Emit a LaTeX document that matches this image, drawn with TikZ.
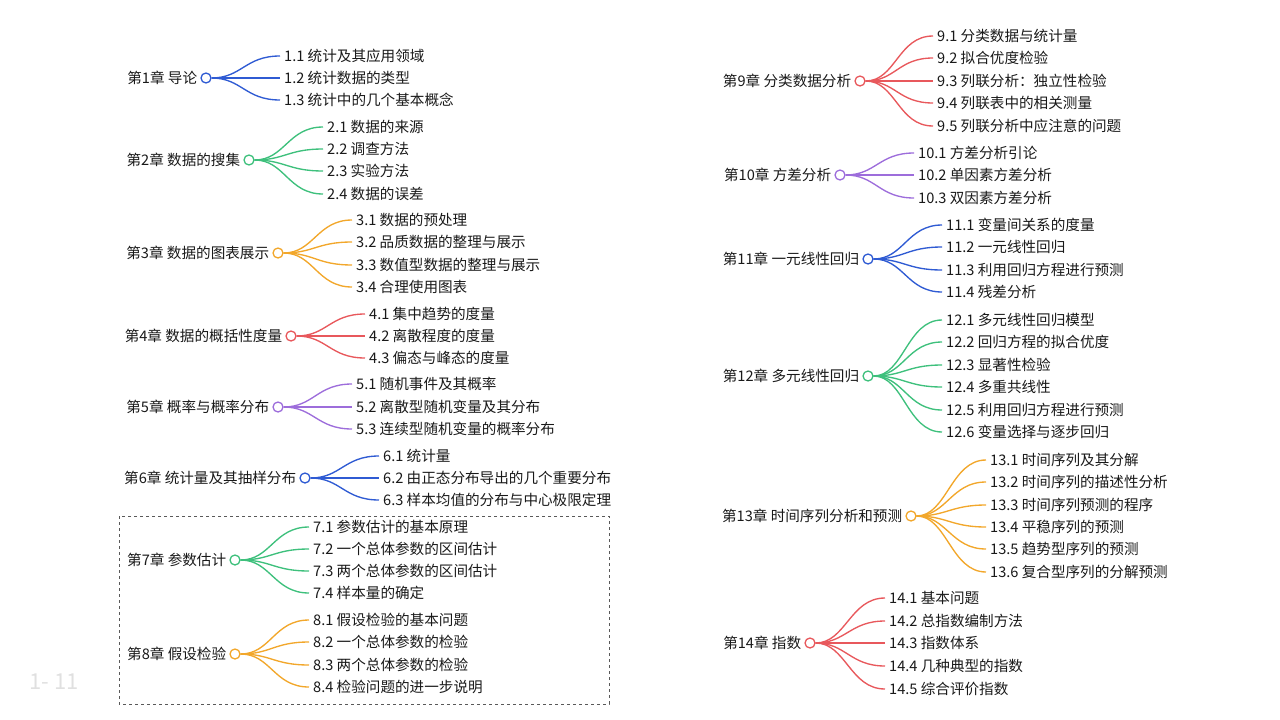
\documentclass[tikz,border=0pt]{standalone}
\usepackage{fontspec}
\setmainfont{Noto Sans CJK SC}
\usepackage{xcolor}
\usepackage{tikz}
\usetikzlibrary{positioning}

\definecolor{cblue}{HTML}{2F5BD3}
\definecolor{cgreen}{HTML}{3EC07C}
\definecolor{corange}{HTML}{F2A72B}
\definecolor{cred}{HTML}{E8585C}
\definecolor{cpurple}{HTML}{9D6DDB}

\begin{document}
\begin{tikzpicture}[x=1pt, y=-1pt, font=\fontsize{14.6}{16}\selectfont,
  chap/.style={circle, draw=#1, fill=white, line width=1.3pt, minimum size=10pt, inner sep=0pt},
  br/.style={draw=#1, line width=1.35pt},
  leaf/.style={anchor=west, inner xsep=4pt, inner ysep=0pt, text=black!90},
  lbl/.style={inner sep=0pt, text=black!90}]
\useasboundingbox (0,0) rectangle (1280,720);

% left column
\node[chap=cblue] (c1) at (206,78) {};
\node[lbl, left=3pt of c1] (t1) {第1章 导论};
\foreach \y/\s [count=\i] in {56/1.1 统计及其应用领域, 78/1.2 统计数据的类型, 100/1.3 统计中的几个基本概念} {
  \node[leaf] (l1-\i) at (280,\y) {\s};
  \draw[br=cblue] (c1.east) .. controls +(30,0) and +(-35,0) .. (l1-\i.west);
}

\node[chap=cgreen] (c2) at (249,160) {};
\node[lbl, left=3pt of c2] (t2) {第2章 数据的搜集};
\foreach \y/\s [count=\i] in {127/2.1 数据的来源, 149/2.2 调查方法, 171/2.3 实验方法, 194/2.4 数据的误差} {
  \node[leaf] (l2-\i) at (323,\y) {\s};
  \draw[br=cgreen] (c2.east) .. controls +(30,0) and +(-35,0) .. (l2-\i.west);
}

\node[chap=corange] (c3) at (278,253) {};
\node[lbl, left=3pt of c3] (t3) {第3章 数据的图表展示};
\foreach \y/\s [count=\i] in {220/3.1 数据的预处理, 242/3.2 品质数据的整理与展示, 265/3.3 数值型数据的整理与展示, 287/3.4 合理使用图表} {
  \node[leaf] (l3-\i) at (352,\y) {\s};
  \draw[br=corange] (c3.east) .. controls +(30,0) and +(-35,0) .. (l3-\i.west);
}

\node[chap=cred] (c4) at (291,336) {};
\node[lbl, left=3pt of c4] (t4) {第4章 数据的概括性度量};
\foreach \y/\s [count=\i] in {314/4.1 集中趋势的度量, 336/4.2 离散程度的度量, 358/4.3 偏态与峰态的度量} {
  \node[leaf] (l4-\i) at (365,\y) {\s};
  \draw[br=cred] (c4.east) .. controls +(30,0) and +(-35,0) .. (l4-\i.west);
}

\node[chap=cpurple] (c5) at (278,407) {};
\node[lbl, left=3pt of c5] (t5) {第5章 概率与概率分布};
\foreach \y/\s [count=\i] in {384/5.1 随机事件及其概率, 407/5.2 离散型随机变量及其分布, 429/5.3 连续型随机变量的概率分布} {
  \node[leaf] (l5-\i) at (352,\y) {\s};
  \draw[br=cpurple] (c5.east) .. controls +(30,0) and +(-35,0) .. (l5-\i.west);
}

\node[chap=cblue] (c6) at (305,478) {};
\node[lbl, left=3pt of c6] (t6) {第6章 统计量及其抽样分布};
\foreach \y/\s [count=\i] in {456/6.1 统计量, 478/6.2 由正态分布导出的几个重要分布, 500/6.3 样本均值的分布与中心极限定理} {
  \node[leaf] (l6-\i) at (379,\y) {\s};
  \draw[br=cblue] (c6.east) .. controls +(30,0) and +(-35,0) .. (l6-\i.west);
}

\draw[dashed, black!65, line width=0.6pt] (119,516) rectangle (609,704);

\node[chap=cgreen] (c7) at (235,560) {};
\node[lbl, left=3pt of c7] (t7) {第7章 参数估计};
\foreach \y/\s [count=\i] in {527/7.1 参数估计的基本原理, 549/7.2 一个总体参数的区间估计, 571/7.3 两个总体参数的区间估计, 593/7.4 样本量的确定} {
  \node[leaf] (l7-\i) at (309,\y) {\s};
  \draw[br=cgreen] (c7.east) .. controls +(30,0) and +(-35,0) .. (l7-\i.west);
}

\node[chap=corange] (c8) at (235,654) {};
\node[lbl, left=3pt of c8] (t8) {第8章 假设检验};
\foreach \y/\s [count=\i] in {620/8.1 假设检验的基本问题, 642/8.2 一个总体参数的检验, 665/8.3 两个总体参数的检验, 687/8.4 检验问题的进一步说明} {
  \node[leaf] (l8-\i) at (309,\y) {\s};
  \draw[br=corange] (c8.east) .. controls +(30,0) and +(-35,0) .. (l8-\i.west);
}

% right column
\node[chap=cred] (c9) at (860,81) {};
\node[lbl, left=3pt of c9] (t9) {第9章 分类数据分析};
\foreach \y/\s [count=\i] in {36/9.1 分类数据与统计量, 58/9.2 拟合优度检验, 81/9.3 列联分析：独立性检验, 103/9.4 列联表中的相关测量, 126/9.5 列联分析中应注意的问题} {
  \node[leaf] (l9-\i) at (933,\y) {\s};
  \draw[br=cred] (c9.east) .. controls +(30,0) and +(-35,0) .. (l9-\i.west);
}

\node[chap=cpurple] (c10) at (840,175) {};
\node[lbl, left=3pt of c10] (t10) {第10章 方差分析};
\foreach \y/\s [count=\i] in {153/10.1 方差分析引论, 175/10.2 单因素方差分析, 198/10.3 双因素方差分析} {
  \node[leaf] (l10-\i) at (914,\y) {\s};
  \draw[br=cpurple] (c10.east) .. controls +(30,0) and +(-35,0) .. (l10-\i.west);
}

\node[chap=cblue] (c11) at (868,259) {};
\node[lbl, left=3pt of c11] (t11) {第11章 一元线性回归};
\foreach \y/\s [count=\i] in {225/11.1 变量间关系的度量, 247/11.2 一元线性回归, 270/11.3 利用回归方程进行预测, 292/11.4 残差分析} {
  \node[leaf] (l11-\i) at (942,\y) {\s};
  \draw[br=cblue] (c11.east) .. controls +(30,0) and +(-35,0) .. (l11-\i.west);
}

\node[chap=cgreen] (c12) at (868,376) {};
\node[lbl, left=3pt of c12] (t12) {第12章 多元线性回归};
\foreach \y/\s [count=\i] in {320/12.1 多元线性回归模型, 342/12.2 回归方程的拟合优度, 365/12.3 显著性检验, 387/12.4 多重共线性, 410/12.5 利用回归方程进行预测, 432/12.6 变量选择与逐步回归} {
  \node[leaf] (l12-\i) at (942,\y) {\s};
  \draw[br=cgreen] (c12.east) .. controls +(30,0) and +(-35,0) .. (l12-\i.west);
}

\node[chap=corange] (c13) at (911,516) {};
\node[lbl, left=3pt of c13] (t13) {第13章 时间序列分析和预测};
\foreach \y/\s [count=\i] in {460/13.1 时间序列及其分解, 482/13.2 时间序列的描述性分析, 505/13.3 时间序列预测的程序, 527/13.4 平稳序列的预测, 549/13.5 趋势型序列的预测, 572/13.6 复合型序列的分解预测} {
  \node[leaf] (l13-\i) at (986,\y) {\s};
  \draw[br=corange] (c13.east) .. controls +(30,0) and +(-35,0) .. (l13-\i.west);
}

\node[chap=cred] (c14) at (810,643) {};
\node[lbl, left=3pt of c14] (t14) {第14章 指数};
\foreach \y/\s [count=\i] in {598/14.1 基本问题, 621/14.2 总指数编制方法, 643/14.3 指数体系, 666/14.4 几种典型的指数, 689/14.5 综合评价指数} {
  \node[leaf] (l14-\i) at (885,\y) {\s};
  \draw[br=cred] (c14.east) .. controls +(30,0) and +(-35,0) .. (l14-\i.west);
}

% page mark
\node[text=black!12, font=\fontsize{22}{24}\selectfont, anchor=west] (pg) at (26,682) {1- 11};
\end{tikzpicture}
\end{document}
